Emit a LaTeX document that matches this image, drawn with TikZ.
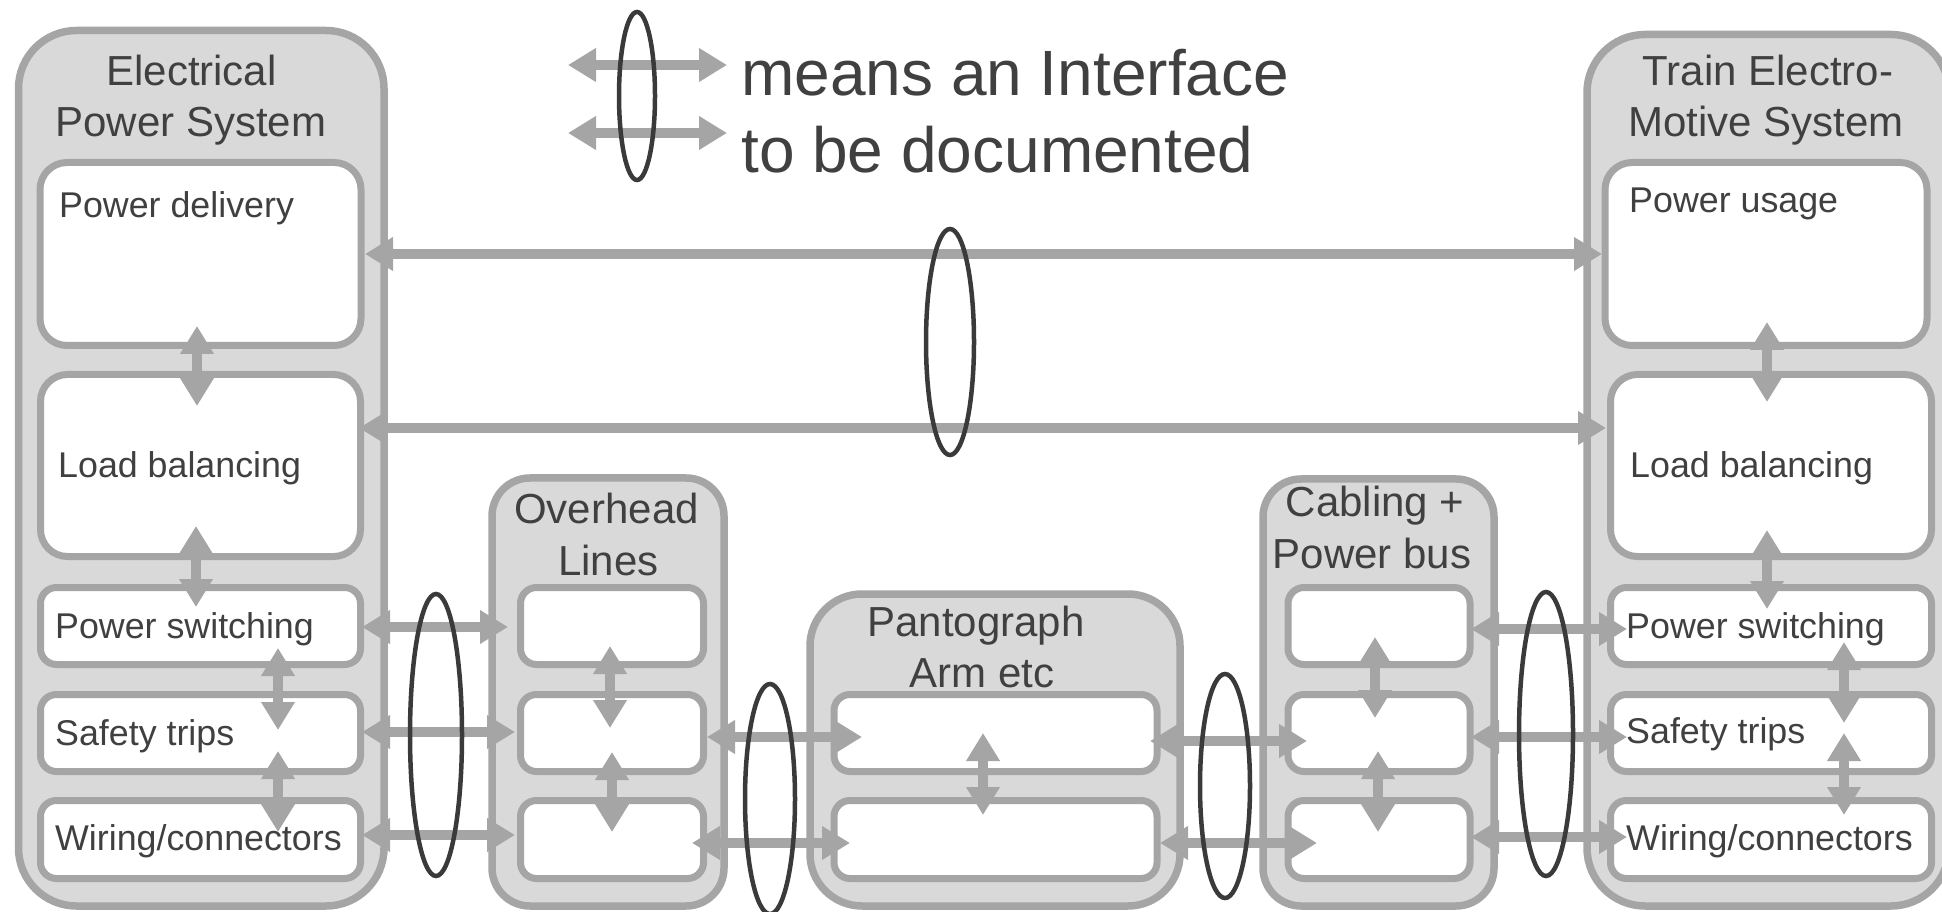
\documentclass[tikz,border=0pt]{standalone}
\usepackage{fontspec}
\setmainfont{Liberation Sans}
\usetikzlibrary{arrows.meta,calc,shapes.geometric}
\definecolor{linegray}{HTML}{A5A5A5}
\definecolor{fillgray}{HTML}{D9D9D9}
\definecolor{textgray}{HTML}{404040}
\definecolor{ringgray}{HTML}{3A3A3A}
\newcommand\sysfont{\fontsize{42}{50}\selectfont}
\newcommand\partfont{\fontsize{35.8}{42}\selectfont}
\newcommand\keyfont{\fontsize{64}{76}\selectfont}
\begin{document}
\begin{tikzpicture}[x=1pt, y=1pt,
  >={Triangle[length=28pt,width=32pt]},
  sysbox/.style={draw=linegray, fill=fillgray, line width=7.5pt, rounded corners=#1, inner sep=0pt, outer sep=0pt},
  partbox/.style={draw=linegray, fill=white, line width=7pt, rounded corners=#1, inner sep=0pt, outer sep=0pt},
  iface/.style={draw=linegray, line width=10pt, <->},
  ring/.style={ellipse, draw=ringgray, line width=4.5pt, inner sep=0pt, outer sep=0pt},
  systitle/.style={anchor=base, text=textgray, font=\sysfont, inner sep=0pt},
  partlabel/.style={anchor=base west, text=textgray, font=\partfont, inner sep=0pt},
  keylabel/.style={anchor=base west, text=textgray, font=\keyfont, inner sep=0pt}]
\useasboundingbox (0,0) rectangle (1942,911);

% systems
\node[sysbox=58pt, minimum width=365.5pt, minimum height=875.5pt] (eps) at (201.25,442.75) {};
\node[sysbox=58pt, minimum width=362pt, minimum height=871.5pt] (tems) at (1768,440.75) {};
\node[sysbox=38pt, minimum width=232pt, minimum height=428pt] (ohl) at (608,219) {};
\node[sysbox=52pt, minimum width=370pt, minimum height=312pt] (pan) at (995,161) {};
\node[sysbox=38pt, minimum width=231pt, minimum height=427pt] (cab) at (1378.5,218.5) {};

% parts of the electrical power system
\node[partbox=27pt, minimum width=321pt, minimum height=183pt] (pd) at (200.5,657) {};
\node[partbox=27pt, minimum width=320pt, minimum height=182pt] (lbl) at (200.5,445.5) {};
\node[partbox=16pt, minimum width=320pt, minimum height=77pt] (psl) at (200.5,285) {};
\node[partbox=16pt, minimum width=320pt, minimum height=77pt] (stl) at (200.5,178) {};
\node[partbox=16pt, minimum width=320pt, minimum height=78pt] (wcl) at (200.5,71.5) {};

% parts of the train electro-motive system
\node[partbox=27pt, minimum width=322pt, minimum height=183pt] (pu) at (1766,657) {};
\node[partbox=27pt, minimum width=321pt, minimum height=182pt] (lbr) at (1771,445.5) {};
\node[partbox=16pt, minimum width=321pt, minimum height=77pt] (psr) at (1771,285) {};
\node[partbox=16pt, minimum width=321pt, minimum height=77pt] (str) at (1771,178) {};
\node[partbox=16pt, minimum width=321pt, minimum height=78pt] (wcr) at (1771,71.5) {};

% overhead lines
\node[partbox=16pt, minimum width=183pt, minimum height=77pt] (ol1) at (612,285) {};
\node[partbox=16pt, minimum width=183pt, minimum height=77pt] (ol2) at (612,178) {};
\node[partbox=16pt, minimum width=183pt, minimum height=78pt] (ol3) at (612,71.5) {};

% cabling and power bus
\node[partbox=16pt, minimum width=182pt, minimum height=77pt] (cb1) at (1379,285) {};
\node[partbox=16pt, minimum width=182pt, minimum height=77pt] (cb2) at (1379,178) {};
\node[partbox=16pt, minimum width=182pt, minimum height=78pt] (cb3) at (1379,71.5) {};

% pantograph
\node[partbox=16pt, minimum width=323pt, minimum height=77pt] (pg1) at (995.5,178) {};
\node[partbox=16pt, minimum width=323pt, minimum height=78pt] (pg2) at (995.5,71.5) {};

% links inside each system
\draw[iface] ($(pd.south)+(-3.5,19.5)$) -- ($(lbl.north)+(-3.5,-31.5)$);
\draw[iface] ($(lbl.south)+(-4.5,30.5)$) -- ($(psl.north)+(-4.5,-19.5)$);
\draw[iface] ($(psl.south)+(77.5,16.5)$) -- ($(stl.north)+(77.5,-35.5)$);
\draw[iface] ($(stl.south)+(77.5,20.5)$) -- ($(wcl.north)+(77.5,-31.5)$);
\draw[iface] ($(pu.south)+(1,23.5)$) -- ($(lbr.north)+(-4,-27.5)$);
\draw[iface] ($(lbr.south)+(-4,26.5)$) -- ($(psr.north)+(-4,-21.5)$);
\draw[iface] ($(psr.south)+(73,22.5)$) -- ($(str.north)+(73,-28.5)$);
\draw[iface] ($(str.south)+(73,38.5)$) -- ($(wcr.north)+(73,-14.5)$);
\draw[iface] ($(ol1.south)+(-2,18.5)$) -- ($(ol2.north)+(-2,-33.5)$);
\draw[iface] ($(ol2.south)+(0,19.5)$) -- ($(ol3.north)+(0,-31.5)$);
\draw[iface] ($(cb1.south)+(-4,27.5)$) -- ($(cb2.north)+(-4,-23.5)$);
\draw[iface] ($(cb2.south)+(-1,20.5)$) -- ($(cb3.north)+(-1,-31.5)$);
\draw[iface] ($(pg1.south)+(-12.5,38.5)$) -- ($(pg2.north)+(-12.5,-14.5)$);

% links between systems
\draw[iface] ($(psl.east)+(1.5,-1)$) -- ($(ol1.west)+(-12.5,-1)$);
\draw[iface] ($(stl.east)+(1.5,1)$) -- ($(ol2.west)+(-5.5,1)$);
\draw[iface] ($(wcl.east)+(1.5,4.5)$) -- ($(ol3.west)+(-5.5,4.5)$);
\draw[iface] ($(ol2.east)+(3.5,-4)$) -- ($(pg1.west)+(28,-4)$);
\draw[iface] ($(ol3.east)+(-11.5,-3.5)$) -- ($(pg2.west)+(16,-3.5)$);
\draw[iface] ($(pg1.east)+(-7,-8)$) -- ($(cb2.west)+(19,-8)$);
\draw[iface] ($(pg2.east)+(3,-3.5)$) -- ($(cb3.west)+(29,-3.5)$);
\draw[iface] ($(cb1.east)+(1,-3)$) -- ($(psr.west)+(16.5,-3)$);
\draw[iface] ($(cb2.east)+(1,-4)$) -- ($(str.west)+(16.5,-4)$);
\draw[iface] ($(cb3.east)+(1,2.5)$) -- ($(wcr.west)+(16.5,2.5)$);
\draw[iface] ($(pd.east)+(4,0)$) -- ($(pu.west)+(-3,0)$);
\draw[iface] ($(lbl.east)+(-1.5,37.5)$) -- ($(lbr.west)+(-4.5,37.5)$);

% key
\coordinate (k1l) at (568,846);
\coordinate (k1r) at (727,846);
\coordinate (k2l) at (568,778);
\coordinate (k2r) at (727,778);
\draw[iface] (k1l) -- (k1r);
\draw[iface] (k2l) -- (k2r);

% interface rings
\node[ring, minimum width=36pt, minimum height=168pt] (ringkey) at (637,815) {};
\node[ring, minimum width=48pt, minimum height=226pt] (ringmid) at (950,569) {};
\node[ring, minimum width=52pt, minimum height=282pt] (ringa) at (436,176) {};
\node[ring, minimum width=50pt, minimum height=230pt] (ringb) at (770,112) {};
\node[ring, minimum width=50pt, minimum height=224pt] (ringc) at (1225,125) {};
\node[ring, minimum width=54pt, minimum height=284pt] (ringd) at (1546,177) {};

% titles
\node[systitle] (epsA) at (191.5,825) {Electrical};
\node[systitle] (epsB) at (191,774) {Power System};
\node[systitle] (temsA) at (1768,825) {Train Electro-};
\node[systitle] (temsB) at (1766,774) {Motive System};
\node[systitle] (ohlA) at (606.5,388) {Overhead};
\node[systitle] (ohlB) at (608.5,336) {Lines};
\node[systitle] (panA) at (976,275) {Pantograph};
\node[systitle] (panB) at (982,224) {Arm etc};
\node[systitle] (cabA) at (1375,394) {Cabling +};
\node[systitle] (cabB) at (1372,343) {Power bus};

% part labels
\node[partlabel] (pdT) at (59,693) {Power delivery};
\node[partlabel] (lblT) at (58,433) {Load balancing};
\node[partlabel] (pslT) at (55,273) {Power switching};
\node[partlabel] (stlT) at (55,166) {Safety trips};
\node[partlabel] (wclT) at (55,61) {Wiring/connectors};
\node[partlabel] (puT) at (1629,698) {Power usage};
\node[partlabel] (lbrT) at (1630,433) {Load balancing};
\node[partlabel] (psrT) at (1626,273) {Power switching};
\node[partlabel] (strT) at (1626,168) {Safety trips};
\node[partlabel] (wcrT) at (1626,61) {Wiring/connectors};

% key text
\node[keylabel] (keyA) at (741,815) {means an Interface};
\node[keylabel] (keyB) at (741,738.5) {to be documented};
\end{tikzpicture}
\end{document}
